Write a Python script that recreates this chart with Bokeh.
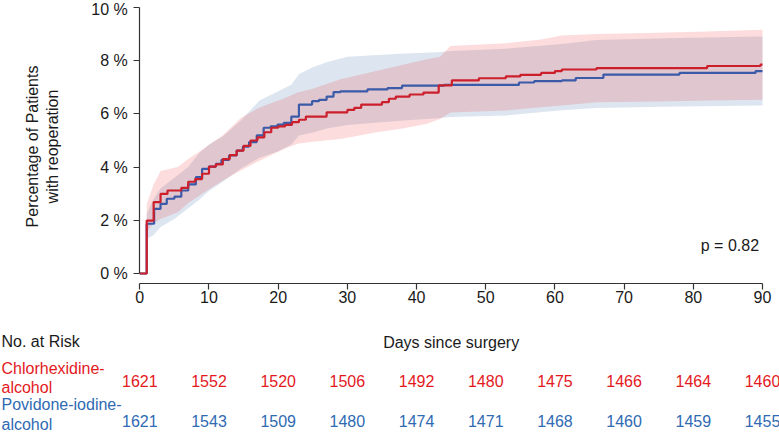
import math
from bokeh.plotting import figure
from bokeh.models import Range1d, FixedTicker
from bokeh.core.properties import value
from bokeh.embed import file_html
from bokeh.resources import INLINE

# ---------------- data ----------------
chx_days = [0, 1, 2, 3, 4, 6, 7, 8, 9, 10, 11, 12, 13, 14, 15, 16, 17, 18, 19, 20,
            21, 22, 23, 24, 27, 30, 31, 32, 35, 36, 37, 39, 41, 43.2, 45.1, 49, 52.9, 55, 58, 60,
            61, 66, 82, 89.7, 90]
chx_pct = [0, 1.99, 2.68, 2.99, 3.12, 3.22, 3.45, 3.55, 3.75, 4.02, 4.1, 4.3, 4.45, 4.62, 4.8, 5.0, 5.12, 5.31, 5.48, 5.53,
           5.59, 5.69, 5.78, 5.9, 6.06, 6.15, 6.23, 6.35, 6.44, 6.57, 6.65, 6.73, 6.8, 7.07, 7.26, 7.34, 7.41, 7.47, 7.54, 7.61,
           7.67, 7.72, 7.8, 7.85, 7.85]

pvi_days = [0, 1, 2.07, 3, 3.9, 5, 6, 7, 8.1, 9, 10, 11, 11.8, 12.9, 14, 14.9, 15.8, 16.9, 17.9, 18.9,
            19.9, 20.8, 21.9, 23, 24.9, 25.9, 27, 28, 29, 32.9, 35.8, 37.9, 44, 54.8, 57, 61, 63, 67, 78, 89, 90]
pvi_pct = [0, 1.87, 2.43, 2.62, 2.81, 2.89, 3.12, 3.35, 3.62, 3.93, 4.02, 4.12, 4.27, 4.44, 4.62, 4.77, 4.94, 5.19, 5.48, 5.53,
           5.6, 5.66, 5.9, 6.35, 6.48, 6.53, 6.65, 6.82, 6.85, 6.92, 6.97, 7.06, 7.09, 7.18, 7.23, 7.26, 7.35, 7.48, 7.54, 7.61, 7.61]

chx_band_days = [1, 2, 3, 5.5, 7, 9, 12, 14.6, 17, 19.4, 21, 22.8, 25, 29, 34, 38, 41.5, 43.4, 44.9, 50,
                 53, 58, 61, 66, 75, 82, 90]
chx_upper = [2.6, 3.35, 3.85, 4.0, 4.3, 4.65, 5.2, 5.85, 6.2, 6.45, 6.6, 6.8, 6.95, 7.3, 7.6, 7.85, 8.05, 8.15, 8.55, 8.62,
             8.66, 8.8, 8.95, 9.0, 9.05, 9.1, 9.16]
chx_lower = [1.55, 1.9, 2.05, 2.3, 2.65, 3.0, 3.5, 3.87, 4.2, 4.5, 4.7, 4.88, 4.95, 5.06, 5.3, 5.45, 5.63, 5.81, 6.05, 6.1,
             6.13, 6.25, 6.32, 6.44, 6.47, 6.5, 6.53]

pvi_band_days = [1, 2, 3, 5, 7, 8.5, 10, 12, 14.6, 17.3, 20, 21.9, 23, 25, 27, 30, 37.6, 43, 45, 53, 61, 66, 78, 90]
pvi_upper = [2.25, 2.8, 3.2, 3.6, 4.0, 4.5, 4.85, 5.15, 5.75, 6.5, 6.85, 7.1, 7.5, 7.75, 7.94, 8.15, 8.26, 8.32, 8.36, 8.45,
             8.63, 8.78, 8.85, 8.91]
pvi_lower = [1.3, 1.45, 1.75, 2.05, 2.45, 2.75, 3.1, 3.45, 3.95, 4.35, 4.6, 4.85, 5.19, 5.3, 5.45, 5.58, 5.74, 5.84, 5.88, 5.94,
             6.14, 6.22, 6.28, 6.32]

risk_days = [0, 10, 20, 30, 40, 50, 60, 70, 80, 90]
risk_chx = [1621, 1552, 1520, 1506, 1492, 1480, 1475, 1466, 1464, 1460]
risk_pvi = [1621, 1543, 1509, 1480, 1474, 1471, 1468, 1460, 1459, 1455]

x_ticks = [0, 10, 20, 30, 40, 50, 60, 70, 80, 90]
y_ticks = [0, 2, 4, 6, 8, 10]
y_tick_labels = ["0 %", "2 %", "4 %", "6 %", "8 %", "10 %"]

group_labels = ["Chlorhexidine-\nalcohol", "Povidone-iodine-\nalcohol"]
y_axis_title = "Percentage of Patients\nwith reoperation"
x_axis_title = "Days since surgery"
table_title = "No. at Risk"
p_value_text = "p = 0.82"

# ---------------- styling / layout (pixel positions on the canvas) ----------------
FONT = "Liberation Sans"
RED_LINE = "#cc1f2b"
BLUE_LINE = "#3b5ba8"
RED_TXT = "#e3191e"
BLUE_TXT = "#2f6ab3"
AXIS_C = "#333333"
TXT_C = "#1a1a1a"

W, H = 779, 433
DAY0_PX, DAY90_PX = 139.3, 762.0       # horizontal position of day 0 / day 90
PCT0_PX, PCT10_PX = 273.0, 7.0         # vertical position of 0 % / 10 %
XAXIS_PX = 283.3                       # vertical position of the x axis line
px_per_day = (DAY90_PX - DAY0_PX) / 90.0
px_per_pct = (PCT0_PX - PCT10_PX) / 10.0


def px_to_x(px):
    return (px - DAY0_PX) / px_per_day


def px_to_y(py):
    return (PCT0_PX - py) / px_per_pct


p = figure(width=W, height=H,
           x_range=Range1d(px_to_x(0), px_to_x(W)), y_range=Range1d(px_to_y(H), px_to_y(0)),
           output_backend="svg", toolbar_location=None, min_border=0)
p.outline_line_color = None
p.grid.visible = False

# confidence bands
p.varea(x=pvi_band_days, y1=pvi_lower, y2=pvi_upper, fill_color="#1c589b", fill_alpha=0.15)
p.varea(x=chx_band_days, y1=chx_lower, y2=chx_upper, fill_color="#eb1616", fill_alpha=0.15)

# curves
p.step(x=pvi_days, y=pvi_pct, mode="after", line_color=BLUE_LINE, line_width=2.2)
p.step(x=chx_days, y=chx_pct, mode="after", line_color=RED_LINE, line_width=2.2)

p.text(x=[89.5], y=[1.05], text=[p_value_text], text_align="right", text_baseline="middle",
       text_font=value(FONT), text_font_size="16px", text_color=TXT_C)

# axes, drawn at fixed positions inside the canvas
p.xaxis.fixed_location = px_to_y(XAXIS_PX)
p.yaxis.fixed_location = 0
p.xaxis.ticker = FixedTicker(ticks=x_ticks)
p.yaxis.ticker = FixedTicker(ticks=y_ticks)
p.yaxis.major_label_overrides = {t: l for t, l in zip(y_ticks, y_tick_labels)}
p.xaxis.bounds = (x_ticks[0], x_ticks[-1])
p.yaxis.bounds = (y_ticks[0], y_ticks[-1])
for ax in (p.xaxis, p.yaxis):
    ax.axis_line_color = AXIS_C
    ax.axis_line_width = 1.2
    ax.major_tick_line_color = AXIS_C
    ax.major_tick_line_width = 1.2
    ax.major_tick_in = 0
    ax.major_tick_out = 6
    ax.minor_tick_line_color = None
    ax.major_label_text_font = FONT
    ax.major_label_text_font_size = "16px"
    ax.major_label_text_color = TXT_C
p.xaxis.major_label_standoff = 1
p.yaxis.major_label_standoff = 6

# axis titles
p.text(x=[px_to_x(42)], y=[px_to_y(146)], text=[y_axis_title], angle=math.pi / 2,
       text_align="center", text_baseline="middle", text_font=value(FONT), text_font_size="16px",
       text_color=TXT_C, text_line_height=1.2)
p.text(x=[(x_ticks[0] + x_ticks[-1]) / 2], y=[px_to_y(342)], text=[x_axis_title],
       text_align="center", text_baseline="middle", text_font=value(FONT), text_font_size="16px",
       text_color=TXT_C)

# ---------------- risk table ----------------
ROW1_PX, ROW2_PX = 380.0, 420.0
x_left = px_to_x(1)
p.text(x=[x_left], y=[px_to_y(341)], text=[table_title], text_align="left", text_baseline="middle",
       text_font=value(FONT), text_font_size="16px", text_color=TXT_C)
p.text(x=[x_left], y=[px_to_y(ROW1_PX - 2.5)], text=[group_labels[0]], text_align="left",
       text_baseline="middle", text_font=value(FONT), text_font_size="16px", text_color=RED_TXT,
       text_line_height=1.17)
p.text(x=[x_left], y=[px_to_y(ROW2_PX - 6)], text=[group_labels[1]], text_align="left",
       text_baseline="middle", text_font=value(FONT), text_font_size="16px", text_color=BLUE_TXT,
       text_line_height=1.12)

p.text(x=risk_days, y=[px_to_y(ROW1_PX)] * len(risk_days), text=[str(v) for v in risk_chx],
       text_align="center", text_baseline="middle", text_font=value(FONT), text_font_size="16px",
       text_color=RED_TXT)
p.text(x=risk_days, y=[px_to_y(ROW2_PX)] * len(risk_days), text=[str(v) for v in risk_pvi],
       text_align="center", text_baseline="middle", text_font=value(FONT), text_font_size="16px",
       text_color=BLUE_TXT)

open("out.html", "w").write(file_html(p, INLINE))
